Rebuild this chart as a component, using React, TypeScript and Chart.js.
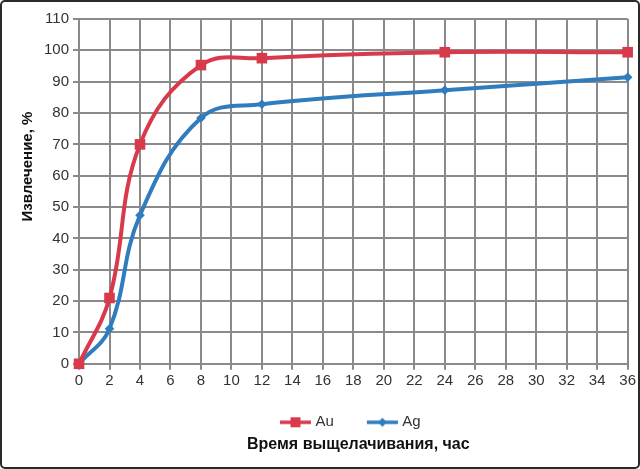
import React, { useEffect, useRef } from "react";
import { Chart, registerables } from "chart.js";

Chart.register(...registerables);

const hours = [0, 2, 4, 8, 12, 24, 36];
const auValues = [0, 21, 70, 95.3, 97.5, 99.4, 99.4];
const agValues = [0, 11.2, 47.4, 78.4, 82.8, 87.3, 91.4];
const seriesNames = ["Au", "Ag"];
const seriesColors = ["#d93a4b", "#2f7cbf"];
const xTitle = "Время выщелачивания, час";
const yTitle = "Извлечение, %";

function legendIcon(color: string, style: "rect" | "diamond") {
  const c = document.createElement("canvas");
  c.width = 44;
  c.height = 12;
  const ctx = c.getContext("2d")!;
  ctx.strokeStyle = color;
  ctx.lineWidth = 3.5;
  ctx.beginPath();
  ctx.moveTo(13, 6);
  ctx.lineTo(44, 6);
  ctx.stroke();
  ctx.fillStyle = color;
  if (style === "rect") {
    ctx.fillRect(23.5, 1, 10, 10);
  } else {
    ctx.beginPath();
    ctx.moveTo(28.5, 1.5);
    ctx.lineTo(33, 6);
    ctx.lineTo(28.5, 10.5);
    ctx.lineTo(24, 6);
    ctx.closePath();
    ctx.fill();
  }
  return c;
}

const yTitlePlugin = {
  id: "yTitlePlugin",
  afterLayout(chart: any) {
    if (chart.legend) {
      chart.legend.left -= 8;
      chart.legend.right -= 8;
    }
    if (chart.titleBlock) {
      chart.titleBlock.left += 5;
      chart.titleBlock.right += 5;
    }
  },
  afterDraw(chart: any) {
    const { ctx, chartArea } = chart;
    ctx.save();
    ctx.fillStyle = "#111";
    ctx.font = "bold 15px 'Liberation Sans'";
    ctx.textAlign = "center";
    ctx.textBaseline = "middle";
    ctx.translate(26, chartArea.top + (chartArea.bottom - chartArea.top) * 0.428);
    ctx.rotate(-Math.PI / 2);
    ctx.fillText(yTitle, 0, 0);
    ctx.restore();
  },
};

export default function App() {
  const ref = useRef<HTMLCanvasElement | null>(null);
  useEffect(() => {
    document.body.style.margin = "0";
    const icons = [legendIcon(seriesColors[0], "rect"), legendIcon(seriesColors[1], "diamond")];
    const chart = new Chart(ref.current!, {
      type: "line",
      data: {
        datasets: [
          {
            label: seriesNames[0],
            data: hours.map((h, i) => ({ x: h, y: auValues[i] })),
            borderColor: seriesColors[0],
            backgroundColor: seriesColors[0],
            borderWidth: 4,
            pointStyle: "rect",
            pointRadius: 7.5,
            pointHoverRadius: 7.5,
            pointBorderWidth: 0,
            tension: 0.4,
            clip: false,
          },
          {
            label: seriesNames[1],
            data: hours.map((h, i) => ({ x: h, y: agValues[i] })),
            borderColor: seriesColors[1],
            backgroundColor: seriesColors[1],
            borderWidth: 4,
            pointStyle: "rectRot",
            pointRadius: 4.8,
            pointHoverRadius: 4.8,
            pointBorderWidth: 0,
            tension: 0.4,
            clip: false,
          },
        ],
      },
      options: {
        animation: false,
        responsive: true,
        maintainAspectRatio: false,
        layout: { padding: { left: 38, right: 10, top: 17, bottom: 13 } },
        scales: {
          x: {
            type: "linear",
            min: 0,
            max: 36,
            ticks: {
              stepSize: 2,
              color: "#333",
              font: { family: "Liberation Sans", size: 15 },
              padding: 2,
            },
            grid: { color: "#8a8a8a", lineWidth: 2, tickLength: 6, tickColor: "#8a8a8a" },
            border: { color: "#8a8a8a", width: 2 },
          },
          y: {
            min: 0,
            max: 110,
            ticks: {
              stepSize: 10,
              color: "#333",
              font: { family: "Liberation Sans", size: 15 },
              padding: 4,
            },
            grid: { color: "#8a8a8a", lineWidth: 2, tickLength: 6, tickColor: "#8a8a8a" },
            border: { color: "#8a8a8a", width: 2 },
          },
        },
        plugins: {
          legend: {
            position: "bottom",
            fullSize: false,
            labels: {
              usePointStyle: true,
              pointStyleWidth: 38,
              color: "#333",
              font: { family: "Liberation Sans", size: 15 },
              padding: 23,
              generateLabels: (ch: any) =>
                ch.data.datasets.map((ds: any, i: number) => ({
                  text: ds.label,
                  fillStyle: ds.backgroundColor,
                  strokeStyle: ds.borderColor,
                  pointStyle: icons[i],
                  lineWidth: 0,
                  datasetIndex: i,
                  hidden: false,
                  fontColor: "#333",
                })),
            },
          },
          title: {
            display: true,
            position: "bottom",
            fullSize: false,
            text: xTitle,
            color: "#111",
            font: { family: "Liberation Sans", size: 16, weight: "bold" },
            padding: { top: -5, bottom: 0 },
          },
          tooltip: { enabled: false },
        },
      },
      plugins: [yTitlePlugin],
    } as any);
    return () => chart.destroy();
  }, []);
  return (
    <div
      style={{
        position: "absolute",
        left: 0,
        top: 0,
        width: 640,
        height: 469,
        boxSizing: "border-box",
        border: "2px solid #2a2a2a",
        borderRadius: 5,
        background: "#fff",
      }}
    >
      <canvas ref={ref} />
    </div>
  );
}
